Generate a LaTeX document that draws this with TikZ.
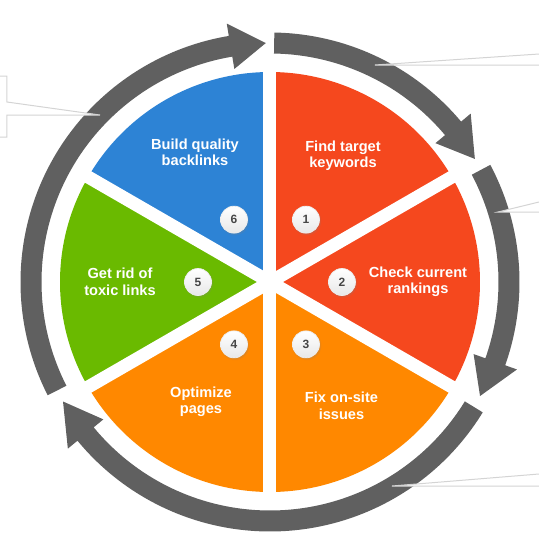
\documentclass[tikz,border=0pt]{standalone}
\usepackage{fontspec}
\setmainfont{Liberation Sans}
\usetikzlibrary{shadows}

\definecolor{arrowgrey}{RGB}{96,96,96}
\definecolor{stepred}{RGB}{245,72,30}
\definecolor{steporange}{RGB}{255,136,0}
\definecolor{stepgreen}{RGB}{106,186,0}
\definecolor{stepblue}{RGB}{45,131,213}
\definecolor{calloutline}{RGB}{212,212,212}
\definecolor{badgetext}{RGB}{70,70,70}

\tikzset{every picture/.style={line width=0.75pt}}
\tikzset{
  steptext/.style={text=white, font=\fontsize{14.6}{16.5}\selectfont\bfseries, align=center, inner sep=0pt},
  badge/.style={circle, minimum size=27pt, inner sep=0pt, top color=white, bottom color=black!9, draw=black!7,
    font=\fontsize{12}{12}\selectfont\bfseries, text=badgetext,
    circular drop shadow={shadow xshift=0.6pt, shadow yshift=-1pt, opacity=0.25}},
  callout/.style={fill=white, draw=calloutline, line width=1pt, line join=miter}
}

% one grey cycle arrow: start angle, angle of the head base, angle of the tip
\newcommand{\cyclearrow}[3]{%
  \fill[arrowgrey] (#1:249.5) arc[start angle=#1, end angle=#2, radius=249.5]
    -- (#2:262) -- (#3:239) -- (#2:216) -- (#2:228.5)
    arc[start angle=#2, end angle=#1, radius=228.5] -- cycle;}

\begin{document}
\begin{tikzpicture}[x=1pt,y=1pt]
\useasboundingbox (-270,-257) rectangle (269,282);

% Sectors
\fill[stepred] (0,0) -- (30:210) arc[start angle=30, end angle=90, radius=210] -- cycle;
\fill[stepred] (0,0) -- (-30:210) arc[start angle=-30, end angle=30, radius=210] -- cycle;
\fill[steporange] (0,0) -- (-90:210) arc[start angle=-90, end angle=-30, radius=210] -- cycle;
\fill[steporange] (0,0) -- (-150:210) arc[start angle=-150, end angle=-90, radius=210] -- cycle;
\fill[stepgreen] (0,0) -- (150:210) arc[start angle=150, end angle=210, radius=210] -- cycle;
\fill[stepblue] (0,0) -- (90:210) arc[start angle=90, end angle=150, radius=210] -- cycle;

% white gaps between the sectors
\foreach \a in {30,90,...,330}
  \draw[white, line width=13pt] (0,0) -- (\a:215);

% Cycle arrows
\cyclearrow{89}{40}{31}
\cyclearrow{28}{-19.5}{-28.5}
\cyclearrow{-31.5}{-140.5}{-150}
\cyclearrow{-153}{-260.5}{-269}

% Callouts
\draw[callout] (269,228) -- (105,217) -- (269,217);
\draw[callout] (269,80) -- (228,70) -- (269,70);
\draw[callout] (269,-192) -- (122,-204) -- (269,-204);
\draw[callout] (-271,206) -- (-263,206) -- (-263,180) -- (-170,167) -- (-263,167) -- (-263,145) -- (-271,145);

% Text Node
\node[steptext] (find) at (60:146) {Find target\\keywords};
\node[steptext] (check) at (0:148) {Check current\\rankings};
\node[steptext] (fix) at (-60:143) {Fix on-site\\issues};
\node[steptext] (optimize) at (-120:138) {Optimize\\pages};
\node[steptext] (toxic) at (180:150) {Get rid of\\toxic links};
\node[steptext] (build) at (120:150) {Build quality\\backlinks};

% Badges
\node[badge] (one) at (60:72) {1};
\node[badge] (two) at (0:72) {2};
\node[badge] (three) at (-60:72) {3};
\node[badge] (four) at (-120:72) {4};
\node[badge] (five) at (180:72) {5};
\node[badge] (six) at (120:72) {6};

\end{tikzpicture}
\end{document}
